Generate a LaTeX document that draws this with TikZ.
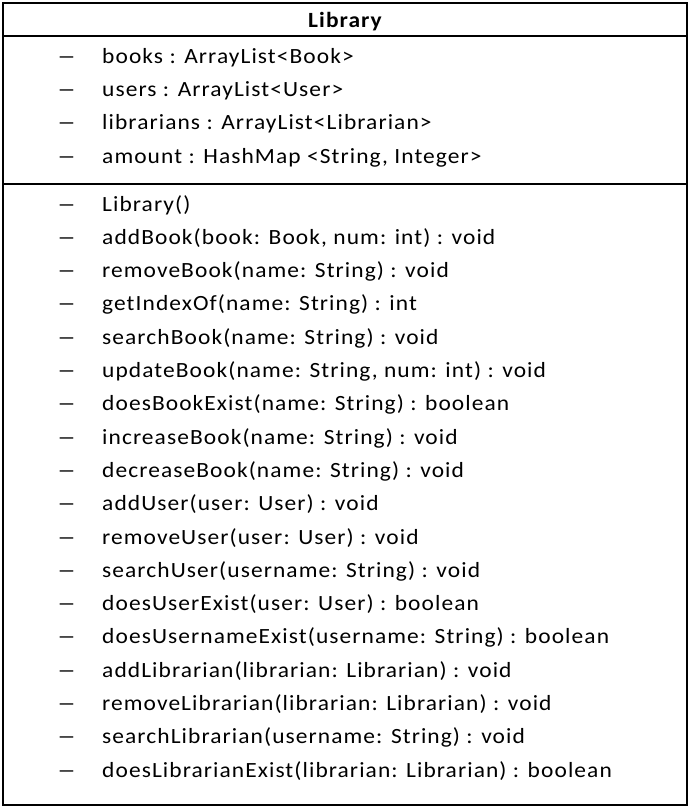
\documentclass[tikz,border=0pt]{standalone}
\usepackage{fontspec}
\setmainfont{Carlito}[FakeStretch=1.08,LetterSpace=5]
\newfontfamily\dashfont{Carlito}[FakeStretch=1.75]
\begin{document}
\begin{tikzpicture}[x=1pt,y=-1pt,
  txt/.style={anchor=base west,inner sep=0pt,font=\fontsize{21.7}{26}\selectfont},
  dsh/.style={anchor=base west,inner sep=0pt,font=\fontsize{21.7}{26}\dashfont},
  rule/.style={line width=1.3pt}]
\useasboundingbox (0,0) rectangle (690,809);
\draw[rule] (3,3) rectangle (687,805);
\draw[rule] (3,36) -- (687,36);
\draw[rule] (3,184) -- (687,184);
\node[anchor=base,inner sep=0pt,font=\fontsize{21.7}{26}\selectfont\bfseries] (title) at (345,27) {Library};
\foreach \t [count=\i] in {books : ArrayList<Book>,users : ArrayList<User>,librarians : ArrayList<Librarian>,{amount : HashMap <String, Integer>}}{
  \node[dsh] (ad\i) at (57,{63+(\i-1)*33.4}) {–};
  \node[txt] (a\i) at (102,{63+(\i-1)*33.4}) {\t};
}
\foreach \t [count=\i] in {Library(),{addBook(book: Book, num: int) : void},removeBook(name: String) : void,getIndexOf(name: String) : int,searchBook(name: String) : void,{updateBook(name: String, num: int) : void},doesBookExist(name: String) : boolean,increaseBook(name: String) : void,decreaseBook(name: String) : void,addUser(user: User) : void,removeUser(user: User) : void,searchUser(username: String) : void,doesUserExist(user: User) : boolean,doesUsernameExist(username: String) : boolean,addLibrarian(librarian: Librarian) : void,removeLibrarian(librarian: Librarian) : void,searchLibrarian(username: String) : void,doesLibrarianExist(librarian: Librarian) : boolean}{
  \node[dsh] (md\i) at (57,{211+(\i-1)*33.3}) {–};
  \node[txt] (m\i) at (102,{211+(\i-1)*33.3}) {\t};
}
\end{tikzpicture}
\end{document}
